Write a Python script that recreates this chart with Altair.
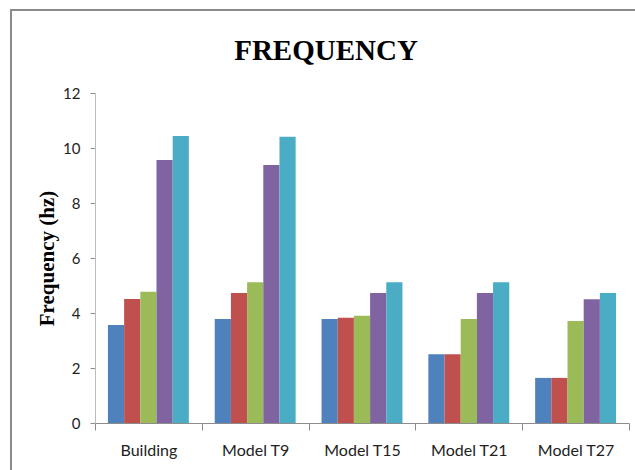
import altair as alt
import pandas as pd

categories = ["Building", "Model T9", "Model T15", "Model T21", "Model T27"]
series_names = ["Series 1", "Series 2", "Series 3", "Series 4", "Series 5"]
series1 = [3.56, 3.78, 3.78, 2.50, 1.64]
series2 = [4.51, 4.73, 3.83, 2.50, 1.64]
series3 = [4.77, 5.12, 3.90, 3.78, 3.71]
series4 = [9.56, 9.38, 4.73, 4.73, 4.50]
series5 = [10.44, 10.41, 5.12, 5.12, 4.73]
colors = ["#4F81BD", "#C0504D", "#9BBB59", "#8064A2", "#4BACC6"]
y_ticks = [0, 2, 4, 6, 8, 10, 12]

rows = []
for name, vals in zip(series_names, [series1, series2, series3, series4, series5]):
    for c, v in zip(categories, vals):
        rows.append({"category": c, "series": name, "value": v})
df = pd.DataFrame(rows)

bars = alt.Chart(df).mark_bar(strokeWidth=0).encode(
    x=alt.X("category:N", sort=categories,
            scale=alt.Scale(paddingInner=0, paddingOuter=0),
            axis=alt.Axis(title=None, labelAngle=0, tickBand="extent",
                          domainColor="#8C8C8C", tickColor="#8C8C8C", tickSize=7,
                          labelFont="Lato", labelFontSize=16, labelColor="#222222",
                          labelPadding=12)),
    xOffset=alt.XOffset("series:N", sort=series_names,
                        scale=alt.Scale(paddingInner=0, paddingOuter=0.8)),
    y=alt.Y("value:Q", scale=alt.Scale(domain=[0, 12], nice=False),
            axis=alt.Axis(values=y_ticks, grid=False, title="Frequency (hz)",
                          domainColor="#BDBDBD", tickColor="#8C8C8C", tickSize=5,
                          labelFont="Lato", labelFontSize=15, labelColor="#222222",
                          labelPadding=10,
                          titleFont="Liberation Serif", titleFontSize=21,
                          titleFontWeight="bold", titleColor="#000000",
                          titleX=-48, titleY=165, titleAlign="center",
                          titleBaseline="middle", titleAngle=270)),
    color=alt.Color("series:N", sort=series_names,
                    scale=alt.Scale(domain=series_names, range=colors), legend=None),
)

frame = alt.Chart(pd.DataFrame({"f": [0]})).mark_rect(
    fill=None, stroke="#8A8A8A", strokeWidth=2
).encode(
    x=alt.value(-84), x2=alt.value(620),
    y=alt.value(-83), y2=alt.value(460),
)

chart = alt.layer(frame, bars).properties(
    width=534, height=330,
    title=alt.TitleParams("FREQUENCY", font="Liberation Serif", fontSize=29,
                          fontWeight="bold", color="#000000", anchor="middle",
                          baseline="alphabetic", dx=-36, dy=80, offset=0),
    autosize=alt.AutoSizeParams(type="none"),
    padding={"left": 95, "top": 93, "right": 6, "bottom": 47},
).configure_view(stroke=None)

chart.save("out.html", embed_options={"renderer": "svg", "actions": False})
